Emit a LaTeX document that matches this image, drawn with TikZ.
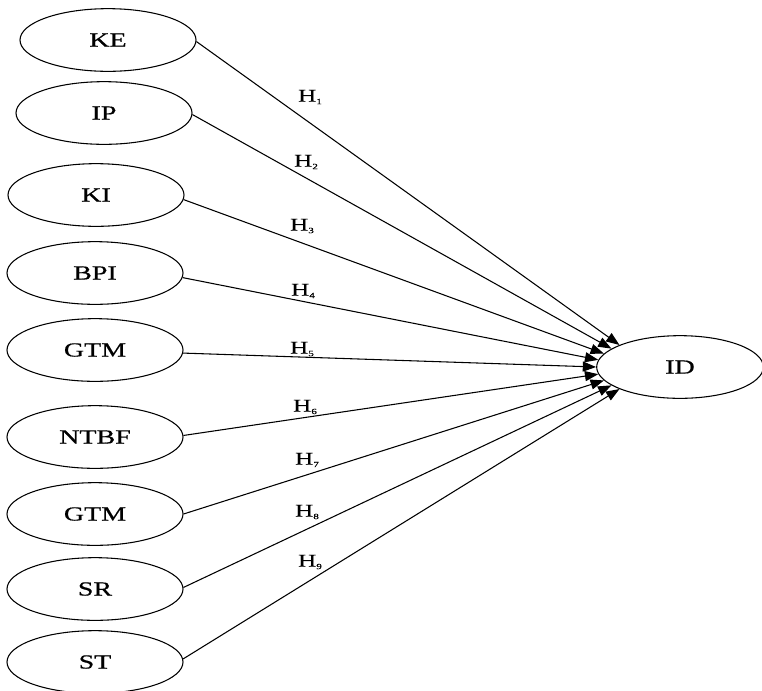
\documentclass[tikz,border=0pt]{standalone}
\usepackage{fontspec}
\setmainfont{Liberation Serif}
\newfontfamily\varfont[FakeStretch=1.4,FakeBold=0.6]{Liberation Serif}
\usetikzlibrary{shapes.geometric,arrows.meta}
\newcommand{\hyplabel}[1]{H\raisebox{-0.3ex}{\fontsize{6}{7}\selectfont #1}}
\begin{document}
\begin{tikzpicture}[x=0.75pt,y=-0.75pt,
  var/.style={ellipse, draw, line width=0.8pt, minimum width=132pt, minimum height=47pt, inner sep=0pt, font=\varfont\fontsize{15}{17}\selectfont},
  hyp/.style={line width=0.8pt, -{Triangle[length=10pt,width=7.5pt]}},
  hlab/.style={inner sep=0pt, font=\varfont\fontsize{13.5}{15}\selectfont}]
\useasboundingbox (0,0) rectangle (762,690);
\node[var] (ke) at (108,40){KE};
\node[var] (ip) at (104,113){IP};
\node[var] (ki) at (96,195){KI};
\node[var] (bpi) at (95,273){BPI};
\node[var] (gtm) at (95,350){GTM};
\node[var] (ntbf) at (95,437){NTBF};
\node[var] (gtmb) at (95,514){GTM};
\node[var] (sr) at (95,589){SR};
\node[var] (st) at (95,662){ST};
\node[var, minimum width=125pt] (id) at (680,367){ID};
% hypotheses
\node[hlab] (h1) at (310,97){\hyplabel{1}};
\node[hlab] (h2) at (306,162){\hyplabel{2}};
\node[hlab] (h3) at (302,226){\hyplabel{3}};
\node[hlab] (h4) at (303,291){\hyplabel{4}};
\node[hlab] (h5) at (302,349){\hyplabel{5}};
\node[hlab] (h6) at (305,407){\hyplabel{6}};
\node[hlab] (h7) at (307,460){\hyplabel{7}};
\node[hlab] (h8) at (307,512){\hyplabel{8}};
\node[hlab] (h9) at (310,562){\hyplabel{9}};
\draw[hyp](ke.-1) -- (id.160);
\draw[hyp](ip.-1.5) -- (id.165);
\draw[hyp](ki.-3) -- (id.170);
\draw[hyp](bpi.-3) -- (id.175);
\draw[hyp](gtm.-2) -- (id.180);
\draw[hyp](ntbf.1.5) -- (id.185);
\draw[hyp](gtmb.0) -- (id.190);
\draw[hyp](sr.1) -- (id.195);
\draw[hyp](st.2) -- (id.200);
\end{tikzpicture}
\end{document}
